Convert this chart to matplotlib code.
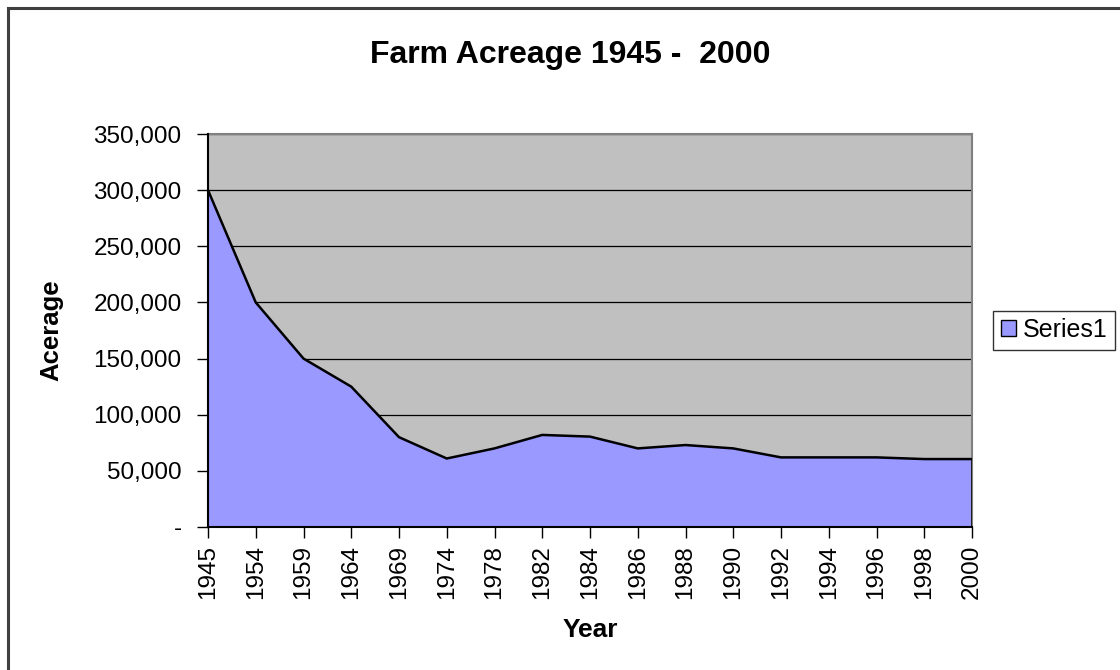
import matplotlib
matplotlib.use("Agg")
import matplotlib.pyplot as plt
from matplotlib.patches import Rectangle, Patch
from matplotlib.ticker import FuncFormatter, MultipleLocator

years = ["1945", "1954", "1959", "1964", "1969", "1974", "1978", "1982", "1984",
         "1986", "1988", "1990", "1992", "1994", "1996", "1998", "2000"]
acreage = [300000, 200000, 150000, 125000, 80000, 61000, 70000, 82000, 80500,
           70000, 73000, 70000, 62000, 62000, 62000, 60500, 60500]

plt.rcParams['font.family'] = ['Liberation Sans', 'DejaVu Sans']

W, H = 1120, 670
fig = plt.figure(figsize=(W / 100, H / 100), dpi=100)
fig.patch.set_facecolor('white')

# outer chart-area border (extends past right/bottom edge)
fig.patches.append(Rectangle((8 / W, -0.05), 1.2, (H - 8) / H + 0.05,
                             transform=fig.transFigure, fill=False,
                             edgecolor='#404040', linewidth=2.2, zorder=0))

left, right, top, bottom = 208, 972, 134, 527
ax = fig.add_axes([left / W, 1 - bottom / H, (right - left) / W, (bottom - top) / H])
ax.set_facecolor('#C0C0C0')

x = list(range(len(years)))
ax.fill_between(x, acreage, 0, facecolor='#9999FF', edgecolor='none', zorder=2)
ax.plot(x, acreage, color='black', linewidth=1.8, zorder=3, solid_joinstyle='miter')
ax.vlines([x[-1]], 0, acreage[-1], color='black', linewidth=1.8, zorder=3)

ax.set_xlim(0, len(years) - 1)
ax.set_ylim(0, 350000)
ax.yaxis.set_major_locator(MultipleLocator(50000))
ax.yaxis.set_major_formatter(FuncFormatter(lambda v, p: '-' if v == 0 else f"{int(v):,}"))
ax.grid(axis='y', color='black', linewidth=0.9, zorder=1)
ax.set_axisbelow(True)

ax.set_xticks(x)
ax.set_xticklabels(years, rotation=90, fontsize=17.5)
ax.tick_params(axis='x', length=8, width=1, pad=5, color='black')
ax.tick_params(axis='y', length=8, width=1, pad=11, labelsize=17.5, color='black')

for s in ['top', 'right']:
    ax.spines[s].set_color('#808080')
    ax.spines[s].set_linewidth(1.5)
for s in ['left', 'bottom']:
    ax.spines[s].set_color('black')
    ax.spines[s].set_linewidth(1.5)
    ax.spines[s].set_zorder(4)

ax.set_ylabel('Acerage', fontsize=18.5, fontweight='bold')
ax.set_xlabel('Year', fontsize=19, fontweight='bold')
ax.yaxis.set_label_coords((63 - left) / (right - left), 0.5)
ax.xaxis.set_label_coords(0.5, -(618 - bottom) / (bottom - top))

fig.text(570 / W, 1 - 63 / H, 'Farm Acreage 1945 -  2000', ha='center', va='baseline',
         fontsize=23, fontweight='bold')

handle = Patch(facecolor='#9999FF', edgecolor='black', linewidth=1)
leg = fig.legend([handle], ['Series1'], loc='center left',
                 bbox_to_anchor=(993 / W, 1 - 330 / H), fontsize=18,
                 frameon=True, fancybox=False, handlelength=0.6, handleheight=0.6,
                 handletextpad=0.3, borderpad=0.3, borderaxespad=0)
leg.get_frame().set_edgecolor('black')
leg.get_frame().set_linewidth(1)

fig.savefig('out.png', dpi=100)
